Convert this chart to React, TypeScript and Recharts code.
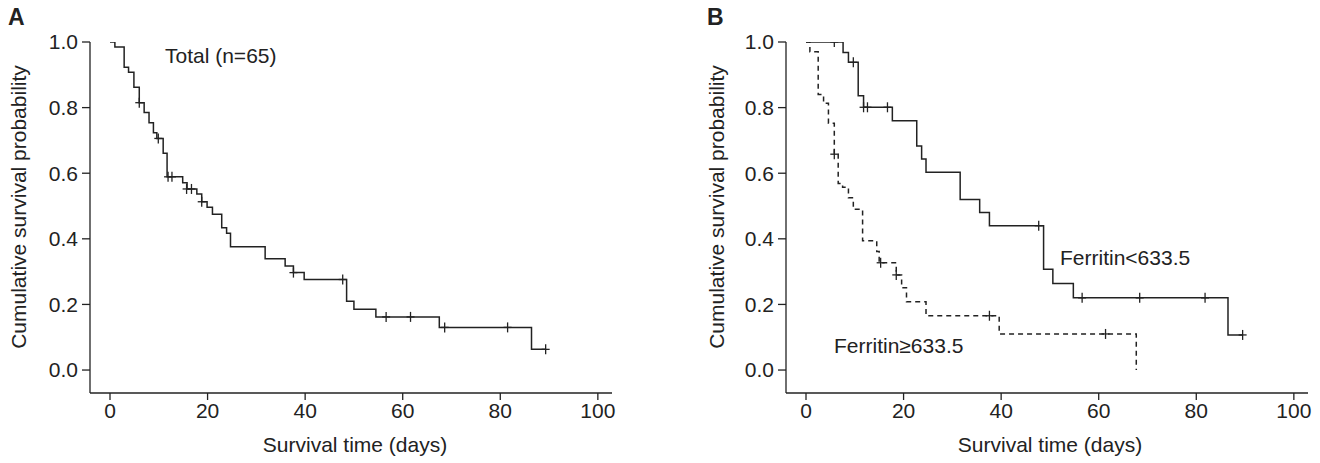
import React from "react";
import { ComposedChart, Line, Scatter, XAxis, YAxis } from "recharts";

// Kaplan-Meier step points: s holds from t onwards
const totalSteps = [
  { t: 0, s: 1.0 }, { t: 1.0, s: 0.985 }, { t: 2.9, s: 0.923 }, { t: 3.8, s: 0.908 },
  { t: 4.9, s: 0.862 }, { t: 6.0, s: 0.815 }, { t: 7.0, s: 0.785 }, { t: 8.0, s: 0.754 },
  { t: 8.9, s: 0.723 }, { t: 9.6, s: 0.706 }, { t: 10.9, s: 0.661 }, { t: 11.7, s: 0.589 },
  { t: 14.9, s: 0.571 }, { t: 15.8, s: 0.552 }, { t: 17.8, s: 0.537 }, { t: 18.8, s: 0.513 },
  { t: 19.9, s: 0.496 }, { t: 21.0, s: 0.475 }, { t: 22.9, s: 0.434 }, { t: 23.9, s: 0.417 },
  { t: 24.7, s: 0.376 }, { t: 31.8, s: 0.339 }, { t: 35.9, s: 0.317 }, { t: 37.6, s: 0.297 },
  { t: 39.8, s: 0.276 }, { t: 48.5, s: 0.21 }, { t: 50.0, s: 0.185 }, { t: 54.5, s: 0.162 },
  { t: 67.5, s: 0.13 }, { t: 86.4, s: 0.063 }, { t: 89.3, s: 0.063 },
];
const totalCensored = [
  { t: 6.0, s: 0.815 }, { t: 9.9, s: 0.706 }, { t: 11.9, s: 0.589 }, { t: 12.7, s: 0.589 },
  { t: 15.7, s: 0.552 }, { t: 16.7, s: 0.552 }, { t: 18.8, s: 0.513 }, { t: 37.6, s: 0.297 },
  { t: 47.7, s: 0.276 }, { t: 56.6, s: 0.162 }, { t: 61.6, s: 0.162 }, { t: 68.6, s: 0.13 },
  { t: 81.5, s: 0.13 }, { t: 89.3, s: 0.063 },
];

const lowSteps = [
  { t: 0, s: 1.0 }, { t: 7.6, s: 0.968 }, { t: 8.7, s: 0.938 }, { t: 10.7, s: 0.836 },
  { t: 11.8, s: 0.801 }, { t: 17.7, s: 0.76 }, { t: 22.7, s: 0.683 }, { t: 23.7, s: 0.643 },
  { t: 24.6, s: 0.603 }, { t: 31.6, s: 0.52 }, { t: 35.6, s: 0.48 }, { t: 37.6, s: 0.44 },
  { t: 48.7, s: 0.307 }, { t: 50.6, s: 0.264 }, { t: 54.8, s: 0.22 }, { t: 86.5, s: 0.107 },
  { t: 89.5, s: 0.107 },
];
const lowCensored = [
  { t: 5.8, s: 1.0 }, { t: 9.7, s: 0.938 }, { t: 11.8, s: 0.801 }, { t: 12.6, s: 0.801 },
  { t: 16.7, s: 0.801 }, { t: 47.7, s: 0.44 }, { t: 56.6, s: 0.22 }, { t: 68.4, s: 0.22 },
  { t: 81.8, s: 0.22 }, { t: 89.5, s: 0.107 },
];

const highSteps = [
  { t: 0, s: 1.0 }, { t: 0.8, s: 0.97 }, { t: 2.5, s: 0.84 }, { t: 3.6, s: 0.813 },
  { t: 4.6, s: 0.752 }, { t: 5.8, s: 0.658 }, { t: 6.6, s: 0.569 }, { t: 7.5, s: 0.557 },
  { t: 8.7, s: 0.525 }, { t: 9.7, s: 0.49 }, { t: 11.6, s: 0.394 }, { t: 14.5, s: 0.361 },
  { t: 15.0, s: 0.327 }, { t: 18.5, s: 0.29 }, { t: 19.6, s: 0.251 }, { t: 20.6, s: 0.208 },
  { t: 24.6, s: 0.1655 }, { t: 39.6, s: 0.11 }, { t: 67.7, s: 0 },
];
const highCensored = [
  { t: 5.8, s: 0.658 }, { t: 15.3, s: 0.327 }, { t: 18.5, s: 0.29 }, { t: 37.6, s: 0.1655 },
  { t: 61.4, s: 0.11 },
];

const xTicks = [0, 20, 40, 60, 80, 100];
const yTicks = [0, 0.2, 0.4, 0.6, 0.8, 1.0];

const FONT = '"Liberation Sans", Arial, sans-serif';
const INK = "#222";

const CensorMark = (props: any) => {
  const { cx, cy } = props;
  if (cx == null || cy == null) return <g />;
  return (
    <g>
      <line x1={cx} x2={cx} y1={cy - 5} y2={cy + 5} stroke={INK} strokeWidth={1.3} />
      <line x1={cx - 4} x2={cx + 4} y1={cy} y2={cy} stroke={INK} strokeWidth={1.3} />
    </g>
  );
};

type Curve = {
  steps: { t: number; s: number }[];
  censored: { t: number; s: number }[];
  dashed?: boolean;
};

function KmPanel({ curves }: { curves: Curve[] }) {
  const tickStyle = { fontSize: 21, fill: INK, fontFamily: FONT };
  return (
    <ComposedChart width={624} height={463} margin={{ top: 42, right: 12, bottom: 10, left: 0 }}>
      <XAxis
        dataKey="t"
        type="number"
        domain={[-4.1, 102.9]}
        ticks={xTicks}
        allowDataOverflow
        height={60}
        tickSize={7}
        tickMargin={3}
        tick={tickStyle}
        axisLine={{ stroke: INK, strokeWidth: 1.3 }}
        tickLine={{ stroke: INK, strokeWidth: 1.3 }}
      />
      <YAxis
        dataKey="s"
        type="number"
        domain={[-0.07, 1]}
        ticks={yTicks}
        allowDataOverflow
        width={90}
        tickSize={8}
        tickMargin={4}
        tick={tickStyle}
        tickFormatter={(v: number) => v.toFixed(1)}
        axisLine={{ stroke: INK, strokeWidth: 1.3 }}
        tickLine={{ stroke: INK, strokeWidth: 1.3 }}
      />
      {curves.map((c, i) => (
        <Line
          key={"l" + i}
          data={c.steps}
          dataKey="s"
          type="stepAfter"
          stroke={INK}
          strokeWidth={1.5}
          strokeDasharray={c.dashed ? "5 4" : undefined}
          dot={false}
          activeDot={false}
          isAnimationActive={false}
        />
      ))}
      {curves.map((c, i) => (
        <Scatter
          key={"c" + i}
          data={c.censored}
          dataKey="s"
          shape={CensorMark}
          isAnimationActive={false}
        />
      ))}
    </ComposedChart>
  );
}

const txt = (extra: React.CSSProperties): React.CSSProperties => ({
  position: "absolute",
  fontFamily: FONT,
  fontSize: 21,
  color: INK,
  lineHeight: 1,
  whiteSpace: "nowrap",
  ...extra,
});

export default function App() {
  return (
    <div style={{ position: "absolute", left: 0, top: 0, width: 1320, height: 463, background: "#fff" }}>
      <div style={{ position: "absolute", left: 0, top: 0 }}>
        <KmPanel curves={[{ steps: totalSteps, censored: totalCensored }]} />
      </div>
      <div style={{ position: "absolute", left: 696, top: 0 }}>
        <KmPanel
          curves={[
            { steps: lowSteps, censored: lowCensored },
            { steps: highSteps, censored: highCensored, dashed: true },
          ]}
        />
      </div>

      <div style={txt({ left: 8, top: 6, fontSize: 23, fontWeight: "bold" })}>A</div>
      <div style={txt({ left: 707, top: 6, fontSize: 23, fontWeight: "bold" })}>B</div>

      <div style={txt({ left: 18, top: 207, transform: "translate(-50%,-50%) rotate(-90deg)" })}>
        Cumulative survival probability
      </div>
      <div style={txt({ left: 716, top: 207, transform: "translate(-50%,-50%) rotate(-90deg)" })}>
        Cumulative survival probability
      </div>

      <div style={txt({ left: 355, top: 444, transform: "translate(-50%,-50%)" })}>Survival time (days)</div>
      <div style={txt({ left: 1050, top: 444, transform: "translate(-50%,-50%)" })}>Survival time (days)</div>

      <div style={txt({ left: 165, top: 45 })}>Total (n=65)</div>
      <div style={txt({ left: 1060, top: 247 })}>Ferritin&lt;633.5</div>
      <div style={txt({ left: 834, top: 335 })}>Ferritin≥633.5</div>
    </div>
  );
}
